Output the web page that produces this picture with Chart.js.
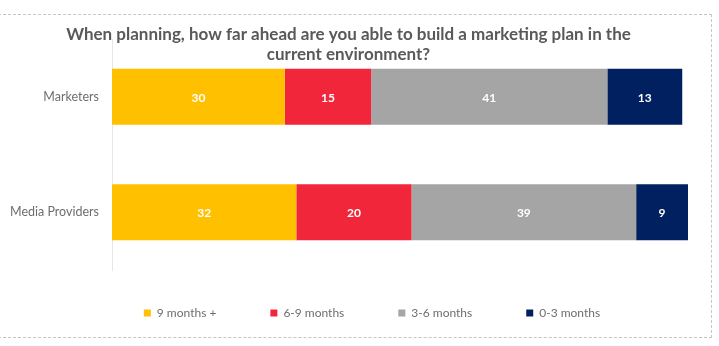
<!DOCTYPE html>
<html>
<head>
<meta charset="utf-8">
<script src="https://cdn.jsdelivr.net/npm/chart.js@4"></script>
<style>
  html, body { margin: 0; padding: 0; background: #fff; }
  #wrap { position: relative; width: 719px; height: 346px; overflow: hidden; }
  #frame { position: absolute; left: -2px; top: 14px; width: 714px; height: 324px;
           border: 1px dashed #c6c6c6; box-sizing: border-box; pointer-events: none; }
  canvas { position: absolute; left: 0; top: 0; }
</style>
</head>
<body>
<div id="wrap">
  <canvas id="c" width="719" height="346"></canvas>
  <div id="frame"></div>
</div>
<script>
// Survey groups (rows) and answer buckets (stacked segments), in percent
const categories = ['Marketers', 'Media Providers'];
const seriesNames = ['9 months +', '6-9 months', '3-6 months', '0-3 months'];
const nineMonthsPlus   = [30, 32];
const sixToNineMonths  = [15, 20];
const threeToSixMonths = [41, 39];
const zeroToThreeMonths = [13, 9];
const titleLines = [
  'When planning, how far ahead are you able to build a marketing plan in the',
  'current environment?'
];

const seriesValues = [nineMonthsPlus, sixToNineMonths, threeToSixMonths, zeroToThreeMonths];
const seriesColors = ['#FFC000', '#F2263A', '#A5A5A5', '#002060'];
const FONT = 'Lato, "Open Sans", sans-serif';

// Two-line heading drawn over the top of the plot
const headingPlugin = {
  id: 'heading',
  afterDraw(chart) {
    const ctx = chart.ctx;
    ctx.save();
    ctx.font = 'bold 17px ' + FONT;
    ctx.fillStyle = '#595959';
    ctx.textAlign = 'center';
    ctx.textBaseline = 'middle';
    ctx.fillText(titleLines[0], 348.5, 35);
    ctx.fillText(titleLines[1], 348.5, 55);
    ctx.restore();
  }
};

// Value written in the middle of each segment
const segmentLabels = {
  id: 'segmentLabels',
  afterDatasetsDraw(chart) {
    const ctx = chart.ctx;
    ctx.save();
    ctx.font = 'bold 12px ' + FONT;
    ctx.fillStyle = '#ffffff';
    ctx.textAlign = 'center';
    ctx.textBaseline = 'middle';
    chart.data.datasets.forEach((ds, di) => {
      const meta = chart.getDatasetMeta(di);
      meta.data.forEach((bar, i) => {
        const p = bar.getCenterPoint();
        ctx.fillText(String(ds.data[i]), p.x, p.y + 1);
      });
    });
    ctx.restore();
  }
};

// Move the legend row up and to the right so it centres under the bars
const legendShift = {
  id: 'legendShift',
  afterLayout(chart) {
    const lg = chart.legend;
    if (lg) {
      lg.top -= 17;
      lg.bottom -= 17;
      lg.left += 28;
      lg.right += 28;
    }
  }
};

new Chart(document.getElementById('c'), {
  type: 'bar',
  data: {
    labels: categories,
    datasets: seriesNames.map((name, i) => ({
      label: name,
      data: seriesValues[i],
      backgroundColor: seriesColors[i],
      borderWidth: 0,
      barPercentage: 0.483,
      categoryPercentage: 1
    }))
  },
  options: {
    indexAxis: 'y',
    responsive: false,
    animation: false,
    devicePixelRatio: 1,
    layout: { padding: { top: 39, left: 0, right: 31, bottom: 0 } },
    scales: {
      x: { stacked: true, min: 0, max: 100, display: false },
      y: {
        stacked: true,
        grid: { display: false },
        border: { display: true, color: '#e6e6e6', width: 1 },
        ticks: { color: '#6e6e6e', font: { family: FONT, size: 12.5 }, padding: 5 },
        afterFit(scale) { scale.width = 112; }
      }
    },
    plugins: {
      title: { display: false },
      tooltip: { enabled: false },
      legend: {
        position: 'bottom',
        labels: {
          color: '#6e6e6e',
          font: { family: FONT, size: 12 },
          boxWidth: 7,
          boxHeight: 7,
          padding: 54
        }
      }
    }
  },
  plugins: [headingPlugin, segmentLabels, legendShift]
});
</script>
</body>
</html>
